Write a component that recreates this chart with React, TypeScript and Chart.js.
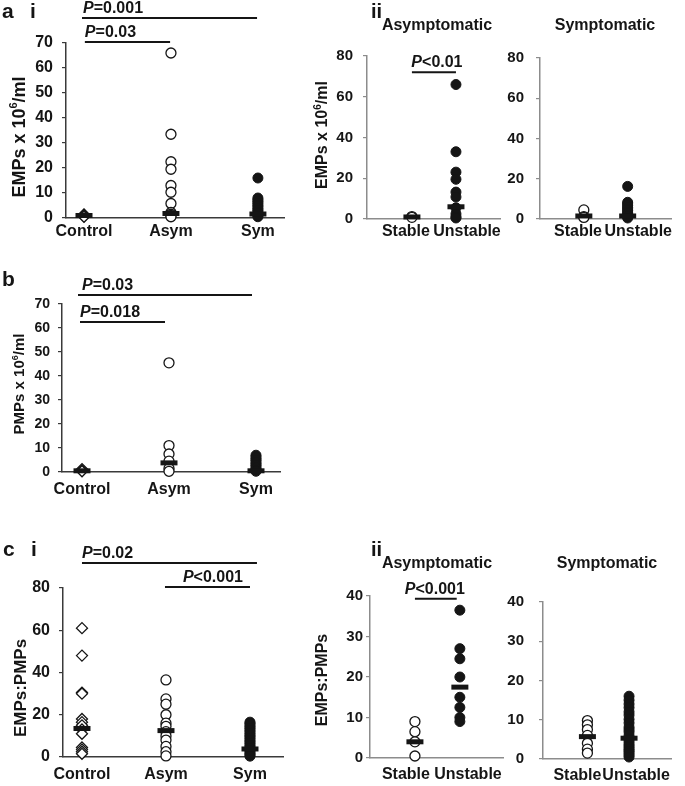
import React, { useEffect, useRef } from "react";
import { Chart, registerables } from "chart.js";

Chart.register(...registerables);

const W = 685;
const H = 786;
const FAMILY = "'Liberation Sans', Arial, sans-serif";
const INK = "#151515";
const DARK_AXIS = "#3a3a3a";
const GREY_AXIS = "#8c8c8c";

// ---------------- data ----------------
const groupsMain = ["Control", "Asym", "Sym"];
const groupsSub = ["Stable", "Unstable"];

// a(i) EMPs x 10^6/ml
const aControl = [1.4, 1.2, 1.0, 0.9, 0.7, 0.5];
const aAsym = [66, 33.5, 22.5, 19.5, 13, 10.3, 5.8, 2.2, 1.5, 1, 0.5];
const aSym = [16, 8, 7.3, 6.6, 5.9, 5.1, 4.5, 3.7, 3.1, 2.4, 1.7, 1, 0.5];
const aMedians = [1.0, 1.8, 1.6];

// a(ii) EMPs, asymptomatic / symptomatic split
const aiiAsymStable = [1.2, 0.8];
const aiiAsymUnstable = [66, 33, 23, 19.5, 13.2, 10.8, 5.5, 2.5, 1, 0.5];
const aiiAsymMedians = [1.0, 6.0];
const aiiSymStable = [4.5, 1.2, 0.8];
const aiiSymUnstable = [16.2, 8.3, 7.5, 6.6, 5.8, 5, 4.2, 3.4, 2.6, 1.9, 1.2, 0.5];
const aiiSymMedians = [1.5, 1.5];

// b PMPs x 10^6/ml
const bControl = [1.2, 0.8, 0.5, 0.3];
const bAsym = [45.5, 11, 7.5, 4.5, 1.5, 0.3];
const bSym = [7, 6.3, 5.5, 4.9, 4.1, 3.4, 2.8, 2.1, 1.4, 0.8, 0.3];
const bMedians = [0.5, 3.8, 0.5];

// c(i) EMPs:PMPs
const cControl = [61, 48, 30.5, 30, 18, 16.5, 15, 13, 11, 4.5, 3.5, 2.5, 1.5];
const cAsym = [36.5, 27.5, 25, 20, 16, 14.5, 12, 10, 8, 5, 2.5, 0.5];
const cSym = [16.5, 15.9, 15.1, 14.3, 13.6, 12.7, 12, 11.1, 10.3, 9.6, 8.8, 7.9, 7.2, 6.4, 5.5, 4.8, 4, 3.3, 2.4, 1.7, 1, 0.4];
const cMedians = [13.5, 12.5, 3.8];

// c(ii) EMPs:PMPs split
const ciiAsymStable = [9, 6.5, 4, 0.5];
const ciiAsymUnstable = [36.5, 27, 24.5, 20, 15, 12.5, 10, 9];
const ciiAsymMedians = [4, 17.5];
const ciiSymStable = [9.8, 8.7, 7.5, 6, 4, 2.5, 1.5];
const ciiSymUnstable = [16, 15, 14, 13.1, 12, 11.2, 10.1, 9.2, 8.1, 7.5, 6.9, 6, 5.1, 4.5, 3.9, 3.4, 2.9, 2.4, 2, 1.5, 1, 0.5];
const ciiSymMedians = [5.7, 5.3];

// ---------------- panel definitions (layout) ----------------
type Marker = "diamond" | "open" | "filled";
interface PBar { from: number; to: number; y: number; text: string; align: "left" | "right" | "center"; dx: number; }
interface Label { text: string; x: number; y: number; size: number; align?: CanvasTextAlign; }
interface YTitle { parts: { t: string; sup?: boolean }[]; x: number; y: number; size: number; }
interface Panel {
  box: { left: number; right: number; top: number; bottom: number };
  xMin: number; xMax: number; yMax: number; yStep: number;
  cats: string[];
  labelPos?: number[];
  groups: { values: number[]; marker: Marker }[];
  medians: number[];
  axisColor: string;
  yTickSize: number; yTickPad: number; xTickSize: number; xTickPad: number;
  yTitle?: YTitle;
  pBars: PBar[];
  labels: Label[];
}

const empTitle = [{ t: "EMPs x 10" }, { t: "6", sup: true }, { t: "/ml" }];
const pmpTitle = [{ t: "PMPs x 10" }, { t: "6", sup: true }, { t: "/ml" }];
const ratioTitle = [{ t: "EMPs:PMPs" }];

const panels: Panel[] = [
  {
    box: { left: 66, right: 284, top: 43, bottom: 218 },
    xMin: 0.793, xMax: 3.3, yMax: 70, yStep: 10, cats: groupsMain,
    groups: [
      { values: aControl, marker: "diamond" },
      { values: aAsym, marker: "open" },
      { values: aSym, marker: "filled" },
    ],
    medians: aMedians, axisColor: DARK_AXIS,
    yTickSize: 16, yTickPad: 9, xTickSize: 16, xTickPad: 4,
    yTitle: { parts: empTitle, x: 20, y: 137, size: 18 },
    pBars: [
      { from: 0.977, to: 2.99, y: 80, text: "=0.001", align: "left", dx: 1 },
      { from: 1.01, to: 1.99, y: 70.4, text: "=0.03", align: "left", dx: 0 },
    ],
    labels: [
      { text: "a", x: 2, y: 18, size: 21 },
      { text: "i", x: 30, y: 18, size: 21 },
    ],
  },
  {
    box: { left: 367, right: 500, top: 56, bottom: 219 },
    xMin: -0.02, xMax: 3.0, yMax: 80, yStep: 20, cats: groupsSub,
    labelPos: [0.864, 2.25],
    groups: [
      { values: aiiAsymStable, marker: "open" },
      { values: aiiAsymUnstable, marker: "filled" },
    ],
    medians: aiiAsymMedians, axisColor: GREY_AXIS,
    yTickSize: 15, yTickPad: 10, xTickSize: 16, xTickPad: 3,
    yTitle: { parts: empTitle, x: 323, y: 135, size: 16 },
    pBars: [{ from: 1.0, to: 2.0, y: 72, text: "<0.01", align: "center", dx: 3 }],
    labels: [
      { text: "ii", x: 371, y: 18, size: 20 },
      { text: "Asymptomatic", x: 437, y: 30, size: 16, align: "center" },
    ],
  },
  {
    box: { left: 540, right: 675, top: 58, bottom: 219 },
    xMin: 0.0, xMax: 3.0, yMax: 80, yStep: 20, cats: groupsSub,
    labelPos: [0.867, 2.24],
    groups: [
      { values: aiiSymStable, marker: "open" },
      { values: aiiSymUnstable, marker: "filled" },
    ],
    medians: aiiSymMedians, axisColor: GREY_AXIS,
    yTickSize: 15, yTickPad: 12, xTickSize: 16, xTickPad: 3,
    pBars: [],
    labels: [{ text: "Symptomatic", x: 605, y: 30, size: 16, align: "center" }],
  },
  {
    box: { left: 62, right: 280, top: 304, bottom: 472 },
    xMin: 0.77, xMax: 3.276, yMax: 70, yStep: 10, cats: groupsMain,
    groups: [
      { values: bControl, marker: "diamond" },
      { values: bAsym, marker: "open" },
      { values: bSym, marker: "filled" },
    ],
    medians: bMedians, axisColor: DARK_AXIS,
    yTickSize: 14, yTickPad: 8, xTickSize: 16, xTickPad: 8,
    yTitle: { parts: pmpTitle, x: 20, y: 384, size: 15 },
    pBars: [
      { from: 0.954, to: 2.954, y: 73.75, text: "=0.03", align: "left", dx: 4 },
      { from: 0.977, to: 1.954, y: 62.5, text: "=0.018", align: "left", dx: 0 },
    ],
    labels: [{ text: "b", x: 2, y: 286, size: 21 }],
  },
  {
    box: { left: 63, right: 283, top: 588, bottom: 757 },
    xMin: 0.774, xMax: 3.393, yMax: 80, yStep: 20, cats: groupsMain,
    groups: [
      { values: cControl, marker: "diamond" },
      { values: cAsym, marker: "open" },
      { values: cSym, marker: "filled" },
    ],
    medians: cMedians, axisColor: DARK_AXIS,
    yTickSize: 16, yTickPad: 9, xTickSize: 16, xTickPad: 8,
    yTitle: { parts: ratioTitle, x: 21, y: 688, size: 17 },
    pBars: [
      { from: 1.0, to: 3.083, y: 91.8, text: "=0.02", align: "left", dx: 0 },
      { from: 1.988, to: 3.0, y: 80.5, text: "<0.001", align: "right", dx: -7 },
    ],
    labels: [
      { text: "c", x: 3, y: 556, size: 21 },
      { text: "i", x: 31, y: 556, size: 21 },
    ],
  },
  {
    box: { left: 370, right: 503, top: 596, bottom: 758 },
    xMin: 0.0, xMax: 2.96, yMax: 40, yStep: 10, cats: groupsSub,
    labelPos: [0.8, 2.18],
    groups: [
      { values: ciiAsymStable, marker: "open" },
      { values: ciiAsymUnstable, marker: "filled" },
    ],
    medians: ciiAsymMedians, axisColor: GREY_AXIS,
    yTickSize: 15, yTickPad: 3, xTickSize: 16, xTickPad: 7,
    yTitle: { parts: ratioTitle, x: 323, y: 680, size: 16 },
    pBars: [{ from: 1.0, to: 1.93, y: 39.3, text: "<0.001", align: "center", dx: -1 }],
    labels: [
      { text: "ii", x: 371, y: 556, size: 20 },
      { text: "Asymptomatic", x: 437, y: 568, size: 16, align: "center" },
    ],
  },
  {
    box: { left: 543, right: 682, top: 602, bottom: 759 },
    xMin: -0.067, xMax: 3.02, yMax: 40, yStep: 10, cats: groupsSub,
    labelPos: [0.76, 2.17],
    groups: [
      { values: ciiSymStable, marker: "open" },
      { values: ciiSymUnstable, marker: "filled" },
    ],
    medians: ciiSymMedians, axisColor: GREY_AXIS,
    yTickSize: 15, yTickPad: 15, xTickSize: 16, xTickPad: 7,
    pBars: [],
    labels: [{ text: "Symptomatic", x: 607, y: 568, size: 16, align: "center" }],
  },
];

// ---------------- drawing helpers ----------------
function markerStyle(m: Marker) {
  if (m === "diamond")
    return { pointStyle: "rectRot", pointRadius: 5.5, pointBackgroundColor: "#ffffff", pointBorderColor: INK, pointBorderWidth: 1.3 };
  if (m === "open")
    return { pointStyle: "circle", pointRadius: 5, pointBackgroundColor: "#ffffff", pointBorderColor: INK, pointBorderWidth: 1.3 };
  return { pointStyle: "circle", pointRadius: 5, pointBackgroundColor: INK, pointBorderColor: INK, pointBorderWidth: 1 };
}

function drawOverlay(chart: any, p: Panel) {
  const ctx: CanvasRenderingContext2D = chart.ctx;
  const xs = chart.scales.x;
  const ys = chart.scales.y;
  ctx.save();
  ctx.fillStyle = INK;
  ctx.strokeStyle = INK;
  ctx.textBaseline = "alphabetic";

  for (const a of p.pBars) {
    const x1 = xs.getPixelForValue(a.from);
    const x2 = xs.getPixelForValue(a.to);
    const y = ys.getPixelForValue(a.y);
    ctx.lineWidth = 2;
    ctx.beginPath();
    ctx.moveTo(x1, y);
    ctx.lineTo(x2, y);
    ctx.stroke();
    const size = 16;
    ctx.font = `italic bold ${size}px ${FAMILY}`;
    const wP = ctx.measureText("P").width;
    ctx.font = `bold ${size}px ${FAMILY}`;
    const wR = ctx.measureText(a.text).width;
    const total = wP + wR;
    let tx: number;
    if (a.align === "left") tx = x1 + a.dx;
    else if (a.align === "right") tx = x2 - total + a.dx;
    else tx = (x1 + x2) / 2 - total / 2 + a.dx;
    const ty = y - 5;
    ctx.textAlign = "left";
    ctx.font = `italic bold ${size}px ${FAMILY}`;
    ctx.fillText("P", tx, ty);
    ctx.font = `bold ${size}px ${FAMILY}`;
    ctx.fillText(a.text, tx + wP, ty);
  }

  for (const l of p.labels) {
    ctx.font = `bold ${l.size}px ${FAMILY}`;
    ctx.textAlign = l.align || "left";
    ctx.fillText(l.text, l.x, l.y);
  }

  if (p.yTitle) {
    const t = p.yTitle;
    const supSize = Math.round(t.size * 0.62);
    const widths = t.parts.map((part) => {
      ctx.font = `bold ${part.sup ? supSize : t.size}px ${FAMILY}`;
      return ctx.measureText(part.t).width;
    });
    const total = widths.reduce((s, w) => s + w, 0);
    ctx.translate(t.x, t.y);
    ctx.rotate(-Math.PI / 2);
    ctx.textAlign = "left";
    ctx.textBaseline = "middle";
    let cx = -total / 2;
    t.parts.forEach((part, i) => {
      ctx.font = `bold ${part.sup ? supSize : t.size}px ${FAMILY}`;
      ctx.fillText(part.t, cx, part.sup ? -t.size * 0.32 : 0);
      cx += widths[i];
    });
  }
  ctx.restore();
}

function buildConfig(p: Panel): any {
  const Y_BOX = 40;
  const X_BOX = 30;
  const tickValues = p.labelPos ?? p.cats.map((_, i) => i + 1);
  const datasets: any[] = [
    {
      label: "median",
      data: p.medians.map((m, i) => ({ x: i + 1, y: m })),
      pointStyle: "line",
      pointRadius: 8.5,
      pointBorderWidth: 5,
      pointBorderColor: INK,
      pointBackgroundColor: INK,
      showLine: false,
      clip: false,
    },
    ...p.groups.map((g, i) => ({
      label: p.cats[i],
      data: g.values.map((v) => ({ x: i + 1, y: v })),
      showLine: false,
      clip: false,
      ...markerStyle(g.marker),
    })),
  ];
  const tickFont = (size: number) => ({ family: FAMILY, size, weight: "bold" as const });
  return {
    type: "scatter",
    data: { datasets },
    options: {
      responsive: false,
      animation: false,
      devicePixelRatio: 1,
      events: [],
      layout: {
        padding: {
          left: p.box.left - Y_BOX,
          top: p.box.top,
          right: W - p.box.right,
          bottom: H - p.box.bottom - X_BOX,
        },
      },
      plugins: { legend: { display: false }, tooltip: { enabled: false }, title: { display: false } },
      scales: {
        x: {
          type: "linear",
          min: p.xMin,
          max: p.xMax,
          afterBuildTicks: (s: any) => {
            s.ticks = tickValues.map((v) => ({ value: v }));
          },
          afterFit: (s: any) => {
            s.height = X_BOX;
          },
          ticks: {
            autoSkip: false,
            maxRotation: 0,
            minRotation: 0,
            padding: p.xTickPad,
            color: INK,
            font: tickFont(p.xTickSize),
            callback: (_v: number, idx: number) => p.cats[idx] ?? "",
          },
          grid: { display: false, drawTicks: false },
          border: { display: true, color: p.axisColor, width: 1.5 },
        },
        y: {
          min: 0,
          max: p.yMax,
          afterFit: (s: any) => {
            s.width = Y_BOX;
          },
          ticks: {
            stepSize: p.yStep,
            padding: p.yTickPad,
            color: INK,
            font: tickFont(p.yTickSize),
          },
          grid: { display: true, drawOnChartArea: false, drawTicks: true, tickLength: 4, color: p.axisColor, lineWidth: 1.2 },
          border: { display: true, color: p.axisColor, width: 1.5 },
        },
      },
    },
    plugins: [
      {
        id: "overlay",
        afterDraw: (chart: any) => drawOverlay(chart, p),
      },
    ],
  };
}

function PanelChart({ panel }: { panel: Panel }) {
  const ref = useRef<HTMLCanvasElement>(null);
  useEffect(() => {
    const chart = new Chart(ref.current as HTMLCanvasElement, buildConfig(panel));
    return () => chart.destroy();
  }, [panel]);
  return (
    <canvas
      ref={ref}
      width={W}
      height={H}
      style={{ position: "absolute", left: 0, top: 0, width: W, height: H }}
    />
  );
}

export default function App() {
  return (
    <div style={{ position: "absolute", left: 0, top: 0, width: W, height: H, background: "#ffffff", overflow: "hidden" }}>
      {panels.map((p, i) => (
        <PanelChart key={i} panel={p} />
      ))}
    </div>
  );
}
